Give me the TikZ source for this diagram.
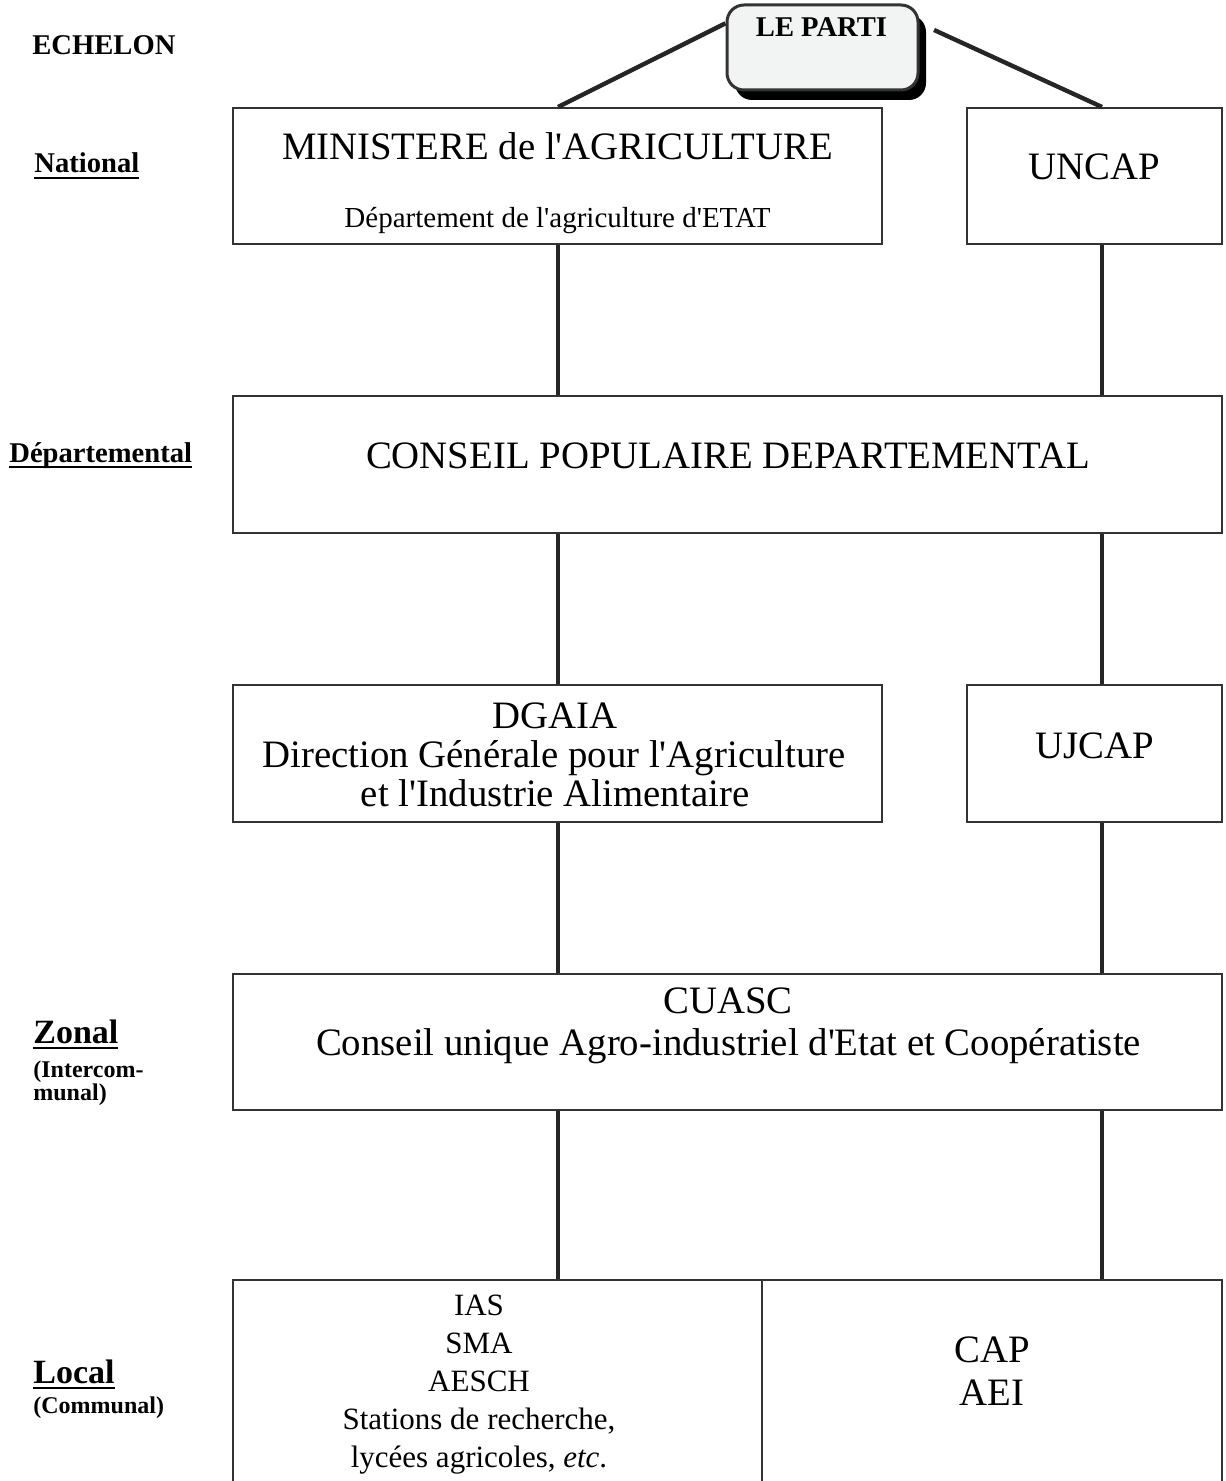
\documentclass[tikz,border=0pt]{standalone}
\usepackage{fontspec}
\setmainfont{Liberation Serif}[Ligatures=TeXOff]
\usetikzlibrary{shadows}

\definecolor{trait}{HTML}{333333}
\definecolor{fondparti}{HTML}{F2F3F3}

% soulignement epais des echelons
\newcommand{\souligne}[1]{\setbox0\hbox{#1}\rlap{\rule[-3.2pt]{\wd0}{1.2pt}}\box0}

\tikzset{
  boite/.style={draw=trait, line width=1pt, inner sep=0pt},
  lien/.style={draw=black!85, line width=2.2pt},
  gros/.style={font=\fontsize{19.4}{19.4}\selectfont, inner sep=0pt, anchor=base},
  echelon/.style={font=\bfseries\fontsize{14.3}{14.3}\selectfont, inner sep=0pt, anchor=base west},
}

\begin{document}
\begin{tikzpicture}[x=0.5pt, y=-0.5pt]
\useasboundingbox (0,0) rectangle (1225,1481);
\clip (0,0) rectangle (1225,1481);

% colonnes des liaisons verticales
\coordinate (colG) at (558,0);
\coordinate (colD) at (1102,0);

% echelons, a gauche
\node[echelon] (ech) at (32,55) {ECHELON};
\node[echelon] (nat) at (34,173) {\souligne{National}};
\node[echelon] (dep) at (9,462) {\souligne{Départemental}};
\node[echelon, font=\bfseries\fontsize{17}{17}\selectfont] (zon) at (33,1043) {\souligne{Zonal}};
\node[echelon, font=\bfseries\fontsize{12}{12}\selectfont] (zon-1) at (33,1077) {(Intercom-};
\node[echelon, font=\bfseries\fontsize{12}{12}\selectfont] (zon-2) at (33,1100) {munal)};
\node[echelon, font=\bfseries\fontsize{17}{17}\selectfont] (locl) at (33,1383) {\souligne{Local}};
\node[echelon, font=\bfseries\fontsize{12}{12}\selectfont] (locl-1) at (33,1413) {(Communal)};

% le parti
\node[boite, line width=1.5pt, rounded corners=8.5pt, fill=fondparti,
      minimum width=95.5pt, minimum height=42.5pt,
      drop shadow={shadow xshift=4pt, shadow yshift=-5pt, fill=black, opacity=1}]
      (parti) at (822.5,47.5) {};
\node[font=\bfseries\fontsize{14.3}{14.3}\selectfont, inner sep=0pt, anchor=base] (parti-nom) at (821.5,37) {LE PARTI};

% boites
\node[boite, minimum width=324.5pt, minimum height=68pt] (minist) at (557.5,176) {};
\node[boite, minimum width=127.5pt, minimum height=68pt] (uncap) at (1094.5,176) {};
\node[boite, minimum width=494.5pt, minimum height=68.5pt] (cpd) at (727.5,464.5) {};
\node[boite, minimum width=324.5pt, minimum height=68.5pt] (dgaia) at (557.5,753.5) {};
\node[boite, minimum width=127.5pt, minimum height=68.5pt] (ujcap) at (1094.5,753.5) {};
\node[boite, minimum width=494.5pt, minimum height=68pt] (cuasc) at (727.5,1042) {};
\node[boite, minimum width=264.5pt, minimum height=110pt] (loc) at (497.5,1390) {};
\node[boite, minimum width=230pt, minimum height=110pt] (coop) at (992,1390) {};

% textes des boites
\node[gros] (minist-nom) at (557.5,160) {MINISTERE de l'AGRICULTURE};
\node[gros, font=\fontsize{14.5}{14.5}\selectfont] (minist-dep) at (557.5,228) {Département de l'agriculture d'ETAT};
\node[gros] (uncap-nom) at (1094.5,180) {UNCAP};
\node[gros] (cpd-nom) at (728,468) {CONSEIL POPULAIRE DEPARTEMENTAL};
\node[gros] (dgaia-1) at (555,728) {DGAIA};
\node[gros] (dgaia-2) at (554,767) {Direction Générale pour l'Agriculture};
\node[gros] (dgaia-3) at (555,806) {et l'Industrie Alimentaire};
\node[gros] (ujcap-nom) at (1094.5,758) {UJCAP};
\node[gros] (cuasc-1) at (728,1013) {CUASC};
\node[gros] (cuasc-2) at (728.5,1055) {Conseil unique Agro-industriel d'Etat et Coopératiste};
\foreach \ligne [count=\i] in {IAS, SMA, AESCH, {Stations de recherche,}, {lycées agricoles, \textit{etc}.}}
  \node[gros, font=\fontsize{15.5}{15.5}\selectfont] (loc-\i) at (479,1277+38*\i) {\ligne};
\node[gros] (coop-1) at (992,1362) {CAP};
\node[gros] (coop-2) at (992,1405) {AEI};

% liaisons
\draw[lien] (parti.166) -- (minist.north -| colG);
\draw[lien, shorten <=8pt] (parti.14) -- (uncap.north -| colD);
\foreach \haut/\bas/\col in {minist/cpd/colG, uncap/cpd/colD, cpd/dgaia/colG, cpd/ujcap/colD,
    dgaia/cuasc/colG, ujcap/cuasc/colD, cuasc/loc/colG, cuasc/coop/colD}
  \draw[lien] (\haut.south -| \col) -- (\bas.north -| \col);
\end{tikzpicture}
\end{document}
